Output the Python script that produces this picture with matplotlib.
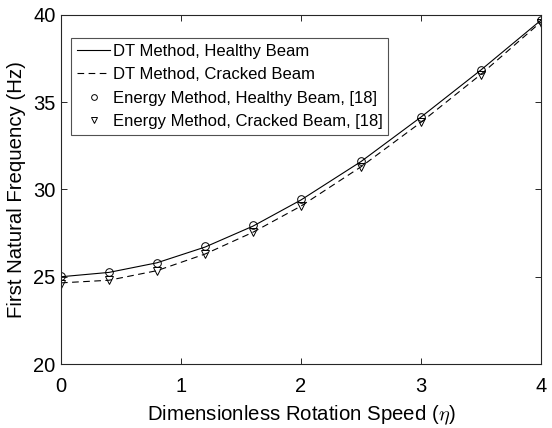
import matplotlib
matplotlib.use('Agg')
import matplotlib.pyplot as plt
import numpy as np

plt.rcParams['font.family'] = ['Liberation Sans', 'DejaVu Sans']
plt.rcParams['mathtext.fontset'] = 'cm'

# Rotation speed samples
eta = [0, 0.4, 0.8, 1.2, 1.6, 2.0, 2.5, 3.0, 3.5, 4.0]

# First natural frequency (Hz)
healthy = [25.0, 25.25, 25.8, 26.7, 27.9, 29.4, 31.6, 34.15, 36.85, 39.7]
cracked = [24.65, 24.8, 25.35, 26.3, 27.55, 29.05, 31.3, 33.85, 36.6, 39.6]

# Energy method reference values [18]
energy_healthy = [25.05, 25.25, 25.8, 26.75, 27.95, 29.45, 31.65, 34.15, 36.85, 39.7]
energy_cracked = [24.6, 24.8, 25.35, 26.3, 27.55, 29.05, 31.3, 33.85, 36.55, 39.55]

fig = plt.figure(figsize=(5.52, 4.28), dpi=100)
ax = fig.add_axes([0.1105, 0.1495, 0.8695, 0.8155])

edge = '#262626'
ax.plot(eta, healthy, '-', color='k', lw=0.8, label='DT Method, Healthy Beam')
ax.plot(eta, cracked, '--', color='k', lw=0.8, dashes=(6, 4), label='DT Method, Cracked Beam')
ax.plot(eta, energy_healthy, 'o', ls='none', mfc='none', mec='k', ms=5.5, mew=0.7,
        label='Energy Method, Healthy Beam, [18]')
ax.plot(eta, energy_cracked, 'v', ls='none', mfc='none', mec='k', ms=6, mew=0.7,
        label='Energy Method, Cracked Beam, [18]')

ax.set_xlim(0, 4)
ax.set_ylim(20, 40)
ax.set_xticks([0, 1, 2, 3, 4])
ax.set_yticks([20, 25, 30, 35, 40])
ax.tick_params(direction='in', length=4, width=0.7, color=edge, labelsize=14.5,
               top=True, right=True, labelcolor='k')
ax.tick_params(axis='x', pad=9.5)
ax.tick_params(axis='y', pad=4)
for s in ax.spines.values():
    s.set_color(edge)
    s.set_linewidth(0.8)

ax.set_xlabel(r'Dimensionless Rotation Speed ($\eta$)', fontsize=14.7, labelpad=5)
ax.set_ylabel('First Natural Frequency (Hz)', fontsize=14.7, labelpad=5)

leg = ax.legend(loc='upper left', bbox_to_anchor=(0.021, 0.934), borderaxespad=0,
                fontsize=12, frameon=True, fancybox=False, edgecolor=edge,
                handlelength=2.0, handletextpad=0.15, labelspacing=0.5,
                borderpad=0.35, markerscale=0.75)
leg.get_frame().set_linewidth(0.8)

fig.savefig('out.png', dpi=100)
